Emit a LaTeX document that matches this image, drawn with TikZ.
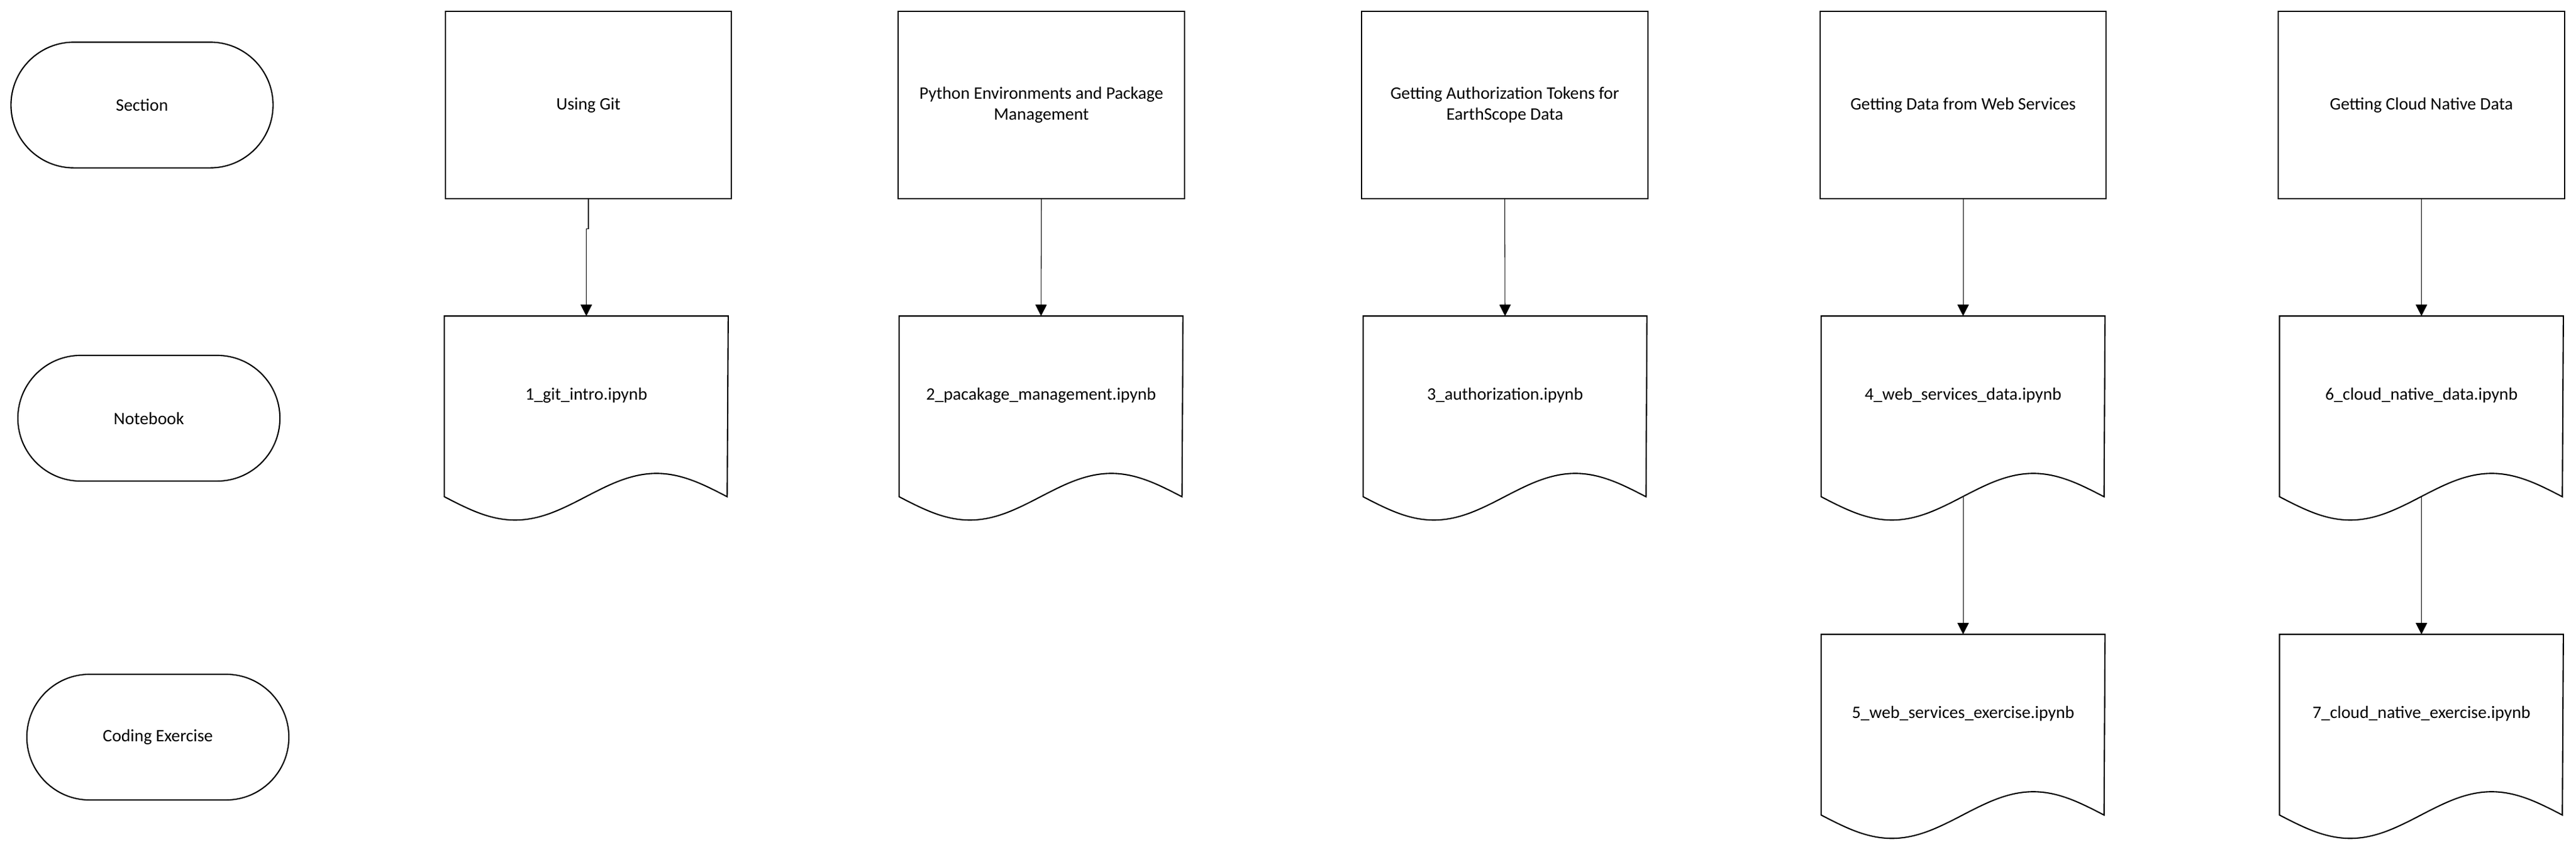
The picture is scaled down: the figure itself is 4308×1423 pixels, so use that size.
\documentclass[tikz,border=0pt]{standalone}
\usepackage{fontspec}
\setmainfont{Carlito}
\usetikzlibrary{arrows.meta,shapes.misc,calc}
\newcommand\fsz{\fontsize{8.3pt}{10pt}\selectfont}
\newcommand\docoutline[1]{\draw[shapeline] (#1.north west) -- ++(0,302) sin ++(118.25,39) cos ++(118.25,-39) sin ++(118.25,-39) cos ++(118.25,39) -- (#1.north east) -- cycle;}
\tikzset{
  shapeline/.style={draw=black, line width=0.6pt},
  term/.style={rounded rectangle, shapeline, minimum width=4.38cm, minimum height=2.10cm, inner sep=0pt, font=\fsz},
  secbox/.style={rectangle, shapeline, minimum width=4.78cm, minimum height=3.13cm, align=center, inner sep=0pt, font=\fsz},
  docnode/.style={rectangle, draw=none, minimum width=4.73cm, minimum height=2.64cm, inner sep=0pt, font=\fsz},
  conn/.style={draw=black, line width=0.3pt, -{Triangle[length=0.19cm,width=0.19cm]}},
}
\begin{document}
\begin{tikzpicture}[x=0.01cm, y=-0.01cm]
\useasboundingbox (0,0) rectangle (4308,1423);
% legend
\node[term] (lsec) at (237.5,175.5) {Section};
\node[term] (lnb) at (249,699) {Notebook};
\node[term] (lex) at (264,1232) {Coding Exercise};
% sections
\node[secbox] (s1) at (984,175.5) {Using Git};
\node[secbox] (s2) at (1741.5,175.5) {Python Environments and Package\\Management};
\node[secbox] (s3) at (2516.5,175.5) {Getting Authorization Tokens for\\EarthScope Data};
\node[secbox] (s4) at (3283,175.5) {Getting Data from Web Services};
\node[secbox] (s5) at (4049.5,175.5) {Getting Cloud Native Data};
% notebooks
\node[docnode] (d1) at (980.5,661) {1\_git\_intro.ipynb};
\node[docnode] (d2) at (1741,661) {2\_pacakage\_management.ipynb};
\node[docnode] (d3) at (2517,661) {3\_authorization.ipynb};
\node[docnode] (d4) at (3283,661) {4\_web\_services\_data.ipynb};
\node[docnode] (d6) at (4049.5,661) {6\_cloud\_native\_data.ipynb};
\node[docnode] (d5) at (3283,1193) {5\_web\_services\_exercise.ipynb};
\node[docnode] (d7) at (4049.5,1193) {7\_cloud\_native\_exercise.ipynb};
\docoutline{d1}
\docoutline{d2}
\docoutline{d3}
\docoutline{d4}
\docoutline{d6}
\docoutline{d5}
\docoutline{d7}
\coordinate (d4b) at ($(d4.north)+(0,302)$);
\coordinate (d6b) at ($(d6.north)+(0,302)$);
% connectors
\draw[conn] (s1.south) -- ++(0,49) -| (d1.north);
\draw[conn] (s2.south) -- (d2.north);
\draw[conn] (s3.south) -- (d3.north);
\draw[conn] (s4.south) -- (d4.north);
\draw[conn] (s5.south) -- (d6.north);
\draw[conn] (d4b) -- (d5.north);
\draw[conn] (d6b) -- (d7.north);
\end{tikzpicture}
\end{document}
